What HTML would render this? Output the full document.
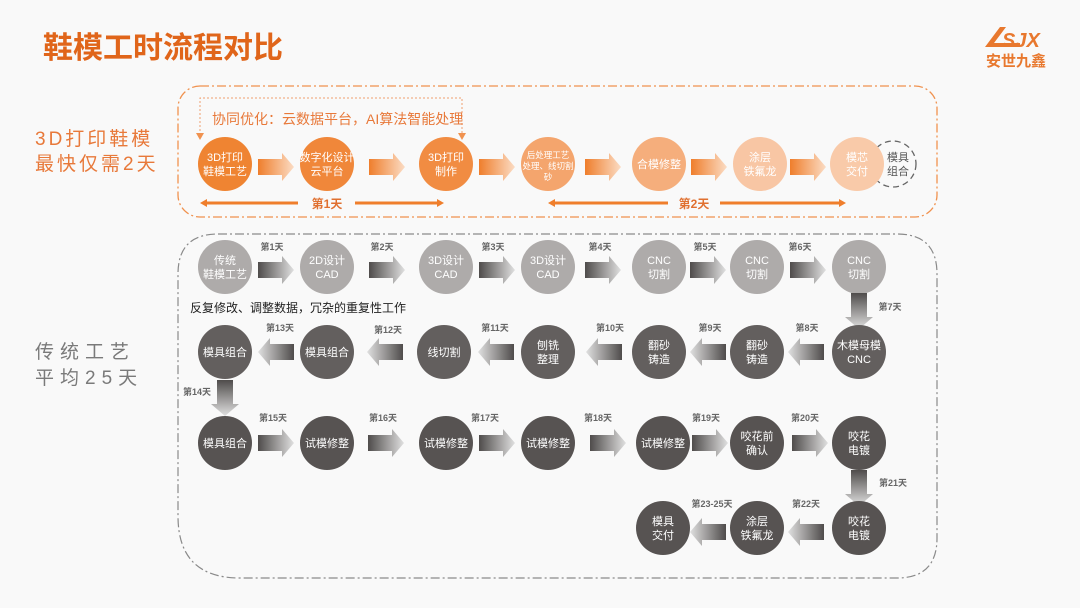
<!DOCTYPE html>
<html><head><meta charset="utf-8"><style>
html,body{margin:0;padding:0;background:#f9f9f9;}
svg{display:block;font-family:"Liberation Sans","Noto Sans CJK SC",sans-serif;}
</style></head><body>
<svg width="1080" height="608" viewBox="0 0 1080 608" xmlns="http://www.w3.org/2000/svg">
<defs>
<linearGradient id="go" x1="0" x2="1" y1="0" y2="0"><stop offset="0" stop-color="#ef7e2c"/><stop offset="1" stop-color="#fbdcc4"/></linearGradient>
<linearGradient id="gg" x1="0" x2="1" y1="0" y2="0"><stop offset="0" stop-color="#4f4c4b"/><stop offset="1" stop-color="#e0e0e0"/></linearGradient>
<polygon id="ao" points="0,-8 24,-8 24,-14 36,0 24,14 24,8 0,8" fill="url(#go)"/>
<polygon id="ag" points="0,-8 24,-8 24,-14 36,0 24,14 24,8 0,8" fill="url(#gg)"/>
</defs>
<rect width="1080" height="608" fill="#f9f9f9"/>
<text x="43" y="58" font-size="30" font-weight="bold" fill="#e0651a">鞋模工时流程对比</text>
<g fill="#e8782e">
<polygon points="985,47 1000,27 1006,27 994,43 1020,43 1020,47"/>
<text x="1002" y="47" font-size="20" font-weight="bold" font-style="italic" fill="#e8782e">SJX</text>
<text x="986" y="66" font-size="15" font-weight="bold" fill="#e8782e">安世九鑫</text>
</g>
<g font-size="19" fill="#e8793a" letter-spacing="3">
<text x="35" y="145">3D打印鞋模</text>
<text x="35" y="170">最快仅需2天</text>
</g>
<g font-size="19" fill="#7a7a7a" letter-spacing="6">
<text x="35" y="358">传统工艺</text>
<text x="35" y="384">平均25天</text>
</g>
<rect x="178" y="86" width="759" height="131" rx="22" fill="none" stroke="#f0924f" stroke-width="1.3" stroke-dasharray="9,3,2,3"/>
<polyline points="200,135 200,98 462,98 462,135" fill="none" stroke="#f0a070" stroke-width="1" stroke-dasharray="2,2"/>
<polygon points="196,133 204,133 200,140" fill="#f0924f"/>
<polygon points="458,133 466,133 462,140" fill="#f0924f"/>
<text x="212" y="124" font-size="14" fill="#e8793a">协同优化：云数据平台，AI算法智能处理</text>
<circle cx="893" cy="164" r="23" fill="none" stroke="#666" stroke-width="1.3" stroke-dasharray="6,4"/>
<g font-size="11" fill="#fff" text-anchor="middle">
<circle cx="225" cy="164" r="27" fill="#ef8432"/><text x="225" y="161">3D打印</text><text x="225" y="175">鞋模工艺</text>
<circle cx="327" cy="164" r="27" fill="#f0873a"/><text x="327" y="161">数字化设计</text><text x="327" y="175">云平台</text>
<circle cx="446" cy="164" r="27" fill="#f18c42"/><text x="446" y="161">3D打印</text><text x="446" y="175">制作</text>
<circle cx="548" cy="164" r="27" fill="#f4a56d"/><text x="548" y="158" font-size="8.5">后处理工艺</text><text x="548" y="169" font-size="8.5">处理、线切割</text><text x="548" y="180" font-size="8.5">砂</text>
<circle cx="659" cy="164" r="27" fill="#f5ae7c"/><text x="659" y="168">合模修整</text>
<circle cx="760" cy="164" r="27" fill="#f8c6a4"/><text x="760" y="161">涂层</text><text x="760" y="175">铁氟龙</text>
<circle cx="857" cy="164" r="27" fill="#f9caa9"/><text x="857" y="161">模芯</text><text x="857" y="175">交付</text>
</g>
<text x="898" y="161" font-size="11" fill="#555" text-anchor="middle">模具</text>
<text x="898" y="175" font-size="11" fill="#555" text-anchor="middle">组合</text>
<use href="#ao" x="258" y="167"/><use href="#ao" x="369" y="167"/><use href="#ao" x="479" y="167"/>
<use href="#ao" x="585" y="167"/><use href="#ao" x="691" y="167"/><use href="#ao" x="790" y="167"/>
<g stroke="#ef7e2c" stroke-width="3" fill="#ef7e2c">
<line x1="205" y1="203" x2="298" y2="203"/><polygon points="200,203 207,199 207,207" stroke="none"/>
<line x1="355" y1="203" x2="439" y2="203"/><polygon points="444,203 437,199 437,207" stroke="none"/>
<line x1="553" y1="203" x2="668" y2="203"/><polygon points="548,203 555,199 555,207" stroke="none"/>
<line x1="720" y1="203" x2="841" y2="203"/><polygon points="846,203 839,199 839,207" stroke="none"/>
</g>
<text x="327" y="208" font-size="12" font-weight="bold" fill="#e07030" text-anchor="middle">第1天</text>
<text x="694" y="208" font-size="12" font-weight="bold" fill="#e07030" text-anchor="middle">第2天</text>
<path d="M218,234 L897,234 Q937,234 937,274 L937,538 Q937,578 897,578 L240,578 Q178,578 178,516 L178,274 Q178,234 218,234 Z" fill="none" stroke="#8a8a8a" stroke-width="1.2" stroke-dasharray="9,3,2,3"/>
<g font-size="11" fill="#fff" text-anchor="middle">
<circle cx="225" cy="267" r="27" fill="#aeabaa"/><text x="225" y="264">传统</text><text x="225" y="278">鞋模工艺</text>
<circle cx="327" cy="267" r="27" fill="#aeabaa"/><text x="327" y="264">2D设计</text><text x="327" y="278">CAD</text>
<circle cx="446" cy="267" r="27" fill="#aeabaa"/><text x="446" y="264">3D设计</text><text x="446" y="278">CAD</text>
<circle cx="548" cy="267" r="27" fill="#aeabaa"/><text x="548" y="264">3D设计</text><text x="548" y="278">CAD</text>
<circle cx="659" cy="267" r="27" fill="#aeabaa"/><text x="659" y="264">CNC</text><text x="659" y="278">切割</text>
<circle cx="757" cy="267" r="27" fill="#aeabaa"/><text x="757" y="264">CNC</text><text x="757" y="278">切割</text>
<circle cx="859" cy="267" r="27" fill="#aeabaa"/><text x="859" y="264">CNC</text><text x="859" y="278">切割</text>
</g>
<use href="#ag" x="258" y="270"/><use href="#ag" x="369" y="270"/><use href="#ag" x="479" y="270"/>
<use href="#ag" x="585" y="270"/><use href="#ag" x="690" y="270"/><use href="#ag" x="790" y="270"/>
<g font-size="9" font-weight="bold" fill="#666" text-anchor="middle">
<text x="272" y="250">第1天</text><text x="382" y="250">第2天</text><text x="493" y="250">第3天</text>
<text x="600" y="250">第4天</text><text x="705" y="250">第5天</text><text x="800" y="250">第6天</text>
<text x="890" y="310">第7天</text>
<text x="280" y="331">第13天</text><text x="388" y="333">第12天</text><text x="495" y="331">第11天</text>
<text x="610" y="331">第10天</text><text x="710" y="331">第9天</text><text x="807" y="331">第8天</text>
<text x="197" y="395">第14天</text>
<text x="273" y="421">第15天</text><text x="383" y="421">第16天</text><text x="485" y="421">第17天</text>
<text x="598" y="421">第18天</text><text x="706" y="421">第19天</text><text x="805" y="421">第20天</text>
<text x="893" y="486">第21天</text>
<text x="806" y="507">第22天</text><text x="712" y="507">第23-25天</text>
</g>
<text x="190" y="312" font-size="12" fill="#222">反复修改、调整数据，冗杂的重复性工作</text>
<use href="#ag" transform="translate(859,293) rotate(90)"/>
<use href="#ag" transform="translate(225,380) rotate(90)"/>
<use href="#ag" transform="translate(859,470) rotate(90)"/>
<g font-size="11" fill="#fff" text-anchor="middle">
<circle cx="225" cy="352" r="27" fill="#635f5e"/><text x="225" y="356">模具组合</text>
<circle cx="327" cy="352" r="27" fill="#635f5e"/><text x="327" y="356">模具组合</text>
<circle cx="444" cy="352" r="27" fill="#635f5e"/><text x="444" y="356">线切割</text>
<circle cx="548" cy="352" r="27" fill="#635f5e"/><text x="548" y="349">刨铣</text><text x="548" y="363">整理</text>
<circle cx="659" cy="352" r="27" fill="#635f5e"/><text x="659" y="349">翻砂</text><text x="659" y="363">铸造</text>
<circle cx="757" cy="352" r="27" fill="#635f5e"/><text x="757" y="349">翻砂</text><text x="757" y="363">铸造</text>
<circle cx="859" cy="352" r="27" fill="#635f5e"/><text x="859" y="349">木模母模</text><text x="859" y="363">CNC</text>
</g>
<use href="#ag" transform="translate(294,352) scale(-1,1)"/>
<use href="#ag" transform="translate(403,352) scale(-1,1)"/>
<use href="#ag" transform="translate(514,352) scale(-1,1)"/>
<use href="#ag" transform="translate(622,352) scale(-1,1)"/>
<use href="#ag" transform="translate(726,352) scale(-1,1)"/>
<use href="#ag" transform="translate(824,352) scale(-1,1)"/>
<g font-size="11" fill="#fff" text-anchor="middle">
<circle cx="225" cy="443" r="27" fill="#575352"/><text x="225" y="447">模具组合</text>
<circle cx="327" cy="443" r="27" fill="#575352"/><text x="327" y="447">试模修整</text>
<circle cx="446" cy="443" r="27" fill="#575352"/><text x="446" y="447">试模修整</text>
<circle cx="548" cy="443" r="27" fill="#575352"/><text x="548" y="447">试模修整</text>
<circle cx="663" cy="443" r="27" fill="#575352"/><text x="663" y="447">试模修整</text>
<circle cx="757" cy="443" r="27" fill="#575352"/><text x="757" y="440">咬花前</text><text x="757" y="454">确认</text>
<circle cx="859" cy="443" r="27" fill="#575352"/><text x="859" y="440">咬花</text><text x="859" y="454">电镀</text>
</g>
<use href="#ag" x="258" y="443"/><use href="#ag" x="368" y="443"/><use href="#ag" x="479" y="443"/>
<use href="#ag" x="590" y="443"/><use href="#ag" x="692" y="443"/><use href="#ag" x="792" y="443"/>
<g font-size="11" fill="#fff" text-anchor="middle">
<circle cx="663" cy="528" r="27" fill="#575352"/><text x="663" y="525">模具</text><text x="663" y="539">交付</text>
<circle cx="757" cy="528" r="27" fill="#575352"/><text x="757" y="525">涂层</text><text x="757" y="539">铁氟龙</text>
<circle cx="859" cy="528" r="27" fill="#575352"/><text x="859" y="525">咬花</text><text x="859" y="539">电镀</text>
</g>
<use href="#ag" transform="translate(726,532) scale(-1,1)"/>
<use href="#ag" transform="translate(824,532) scale(-1,1)"/>
</svg>
</body></html>
